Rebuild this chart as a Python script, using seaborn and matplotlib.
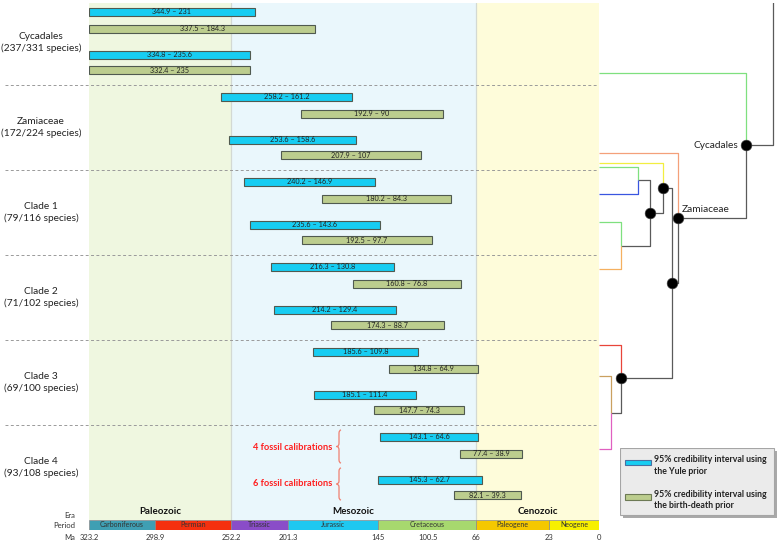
import numpy as np
import pandas as pd
import matplotlib
matplotlib.use("Agg")
import matplotlib.pyplot as plt
import seaborn as sns
from matplotlib.patches import Patch, PathPatch, Rectangle
from matplotlib.path import Path
from matplotlib.transforms import blended_transform_factory

sns.set_style("white")
plt.rcParams["font.family"] = ["Lato", "DejaVu Sans"]

# ------------------------------------------------------------
# data
# ------------------------------------------------------------
clade_names = ["Cycadales", "Zamiaceae", "Clade 1", "Clade 2", "Clade 3", "Clade 4"]
clade_species = ["237/331", "172/224", "79/116", "71/102", "69/100", "93/108"]

# 4 fossil calibrations
yule4_old = [344.9, 258.2, 240.2, 216.3, 185.6, 143.1]
yule4_young = [231, 161.2, 146.9, 130.8, 109.8, 64.6]
bd4_old = [337.5, 192.9, 180.2, 160.8, 134.8, 77.4]
bd4_young = [184.3, 90, 84.3, 76.8, 64.9, 38.9]
# 6 fossil calibrations
yule6_old = [334.8, 253.6, 235.6, 214.2, 185.1, 145.3]
yule6_young = [235.6, 158.6, 143.6, 129.4, 111.4, 62.7]
bd6_old = [332.4, 207.9, 192.5, 174.3, 147.7, 82.1]
bd6_young = [235, 107, 97.7, 88.7, 74.3, 39.3]

era_names = ["Paleozoic", "Mesozoic", "Cenozoic"]
era_old = [323.2, 252.2, 66]
era_young = [252.2, 66, 0]

period_names = ["Carboniferous", "Permian", "Triassic", "Jurassic",
                "Cretaceous", "Paleogene", "Neogene"]
period_old = [323.2, 298.9, 252.2, 201.3, 145, 66, 23]
period_young = [298.9, 252.2, 201.3, 145, 66, 23, 0]

ma_ticks = [323.2, 298.9, 252.2, 201.3, 145, 100.5, 66, 23, 0]
ma_labels = ["323.2", "298.9", "252.2", "201.3", "145", "100.5", "66", "23", "0"]

# summary tree (depth from the tips, row in clade units)
tree_nodes = ["root", "cyc", "cycas", "zam", "zam_a", "e", "a", "zam_b", "b", "c",
              "tip_c1", "tip_c2", "d", "tip_d1", "tip_d2", "f", "tip_f", "g",
              "tip_g1", "tip_g2"]
tree_parent = [None, "root", "cyc", "cyc", "zam", "zam", "e", "a", "a", "b",
               "c", "c", "b", "d", "d", "e", "f", "f", "g", "g"]
tree_depth = [174, 147, 0, 79, 0, 73, 64, 0, 51, 39, 0, 0, 22, 0, 0, 22, 0, 12, 0, 0]
tree_row = [-0.5, 1.71, 0.86, 2.56, 1.80, 3.33, 2.21, 1.92, 2.51, 2.12,
            1.96, 2.28, 2.89, 2.61, 3.16, 4.45, 4.06, 4.86, 4.42, 5.28]
tree_color = ["#5a5a5a", "#5a5a5a", "#7fe07f", "#5a5a5a", "#f4a07a", "#5a5a5a",
              "#5a5a5a", "#f2ee40", "#5a5a5a", "#5a5a5a", "#7fe07f", "#3a56e0",
              "#5a5a5a", "#7fe07f", "#f5b060", "#5a5a5a", "#e8453a", "#5a5a5a",
              "#caa060", "#e060c0"]
tree_dot = ["cyc", "zam", "e", "a", "b", "f"]

# ------------------------------------------------------------
# long table of intervals
# ------------------------------------------------------------
records = []
for i in range(len(clade_names)):
    records.append((i, "4", "Yule", yule4_old[i], yule4_young[i]))
    records.append((i, "4", "BD", bd4_old[i], bd4_young[i]))
    records.append((i, "6", "Yule", yule6_old[i], yule6_young[i]))
    records.append((i, "6", "BD", bd6_old[i], bd6_young[i]))
df = pd.DataFrame(records, columns=["clade", "calib", "prior", "old", "young"])

slot = {("4", "Yule"): 0.141, ("4", "BD"): 0.341, ("6", "Yule"): 0.647, ("6", "BD"): 0.824}
df["row"] = df["clade"] + [slot[(c, p)] for c, p in zip(df["calib"], df["prior"])]

yule_color = "#17cdf2"
bd_color = "#bccd8e"
era_bg = ["#eff7e0", "#eaf7fc", "#fefcda"]
period_colors = ["#3f9fb3", "#f5300f", "#8a4dc8", "#1ec8f0", "#a7d86e", "#f5c800", "#f7f000"]

# geological time scale is drawn piecewise (each interval its own width)
scale_ma = np.array([0, 23, 66, 100.5, 145, 201.3, 252.2, 298.9, 323.2])
scale_px = np.array([0, 50, 123, 171, 221, 311, 368, 444, 510])


def fwd(v):
    return np.interp(v, scale_ma, scale_px)


def inv(p):
    return np.interp(p, scale_px, scale_ma)


W, H = 778, 543
fig = plt.figure(figsize=(W / 100, H / 100), dpi=100)

ax = fig.add_axes([89 / W, 1 - 520 / H, 510 / W, 517 / H])
ax.set_xscale("function", functions=(fwd, inv))
ax.set_xlim(323.2, 0)
ax.set_ylim(520 / 85, 3 / 85)
for sp in ax.spines.values():
    sp.set_visible(False)
ax.tick_params(bottom=False, left=False, labelbottom=False, labelleft=False)

# era backgrounds
for name, o, y, c in zip(era_names, era_old, era_young, era_bg):
    ax.axvspan(y, o, color=c, lw=0, zorder=0)
    mid = inv((fwd(o) + fwd(y)) / 2)
    ax.text(mid, 512 / 85, name, ha="center", va="center", fontsize=7,
            fontweight="bold", color="#111111")
for b in [252.2, 66]:
    ax.axvline(b, color="#d3d9d3", lw=0.9, zorder=0.5)

# clade separators and labels
blend = blended_transform_factory(ax.transAxes, ax.transData)
for k in range(1, len(clade_names)):
    ax.plot([-84 / 510, 509 / 510], [k, k], transform=blend, clip_on=False,
            color="#9a9a9a", lw=0.7, ls=(0, (3, 2.5)), zorder=1)
for k, (name, sp_) in enumerate(zip(clade_names, clade_species)):
    ax.text(-48 / 510, k + 0.5, f"{name}\n({sp_} species)", transform=blend,
            ha="center", va="center", fontsize=7.3, linespacing=1.45, color="#222222")

# interval bars
for _, r in df.iterrows():
    col = yule_color if r["prior"] == "Yule" else bd_color
    ax.barh(r["row"], r["old"] - r["young"], left=r["young"], height=0.1,
            color=col, edgecolor="#505a50", linewidth=0.8, zorder=3)
    mid = inv((fwd(min(r["old"], 323.2)) + fwd(r["young"])) / 2)
    ax.text(mid, r["row"], f"{r['old']:g} – {r['young']:g}", ha="center",
            va="center", fontsize=5.2, color="#222222", zorder=4)

# fossil calibration notes with braces
for txt, yc, (y0, y1) in [("4 fossil calibrations", 447 / 85, (430 / 85, 463 / 85)),
                          ("6 fossil calibrations", 484 / 85, (468 / 85, 500 / 85))]:
    ax.text(204 / 510, yc, txt, transform=blend, ha="center", va="center",
            fontsize=6.7, fontweight="bold", color="#ff1f1f")
    x, d, ym = 250 / 510, (y1 - y0) * 0.1, (y0 + y1) / 2
    verts = [(x + 0.004, y0), (x, y0), (x, y0 + d), (x, ym - d), (x, ym), (x - 0.005, ym),
             (x, ym), (x, ym + d), (x, y1 - d), (x, y1), (x + 0.004, y1)]
    codes = [Path.MOVETO, Path.CURVE3, Path.CURVE3, Path.LINETO, Path.CURVE3, Path.CURVE3,
             Path.CURVE3, Path.CURVE3, Path.LINETO, Path.CURVE3, Path.CURVE3]
    ax.add_patch(PathPatch(Path(verts, codes), transform=blend, fill=False,
                           edgecolor="#f08070", lw=0.9, clip_on=False))

# period strip
ax2 = fig.add_axes([89 / W, 1 - 529.5 / H, 510 / W, 9.5 / H])
ax2.set_xscale("function", functions=(fwd, inv))
ax2.set_xlim(323.2, 0)
ax2.set_ylim(0, 1)
ax2.barh(0, np.array(period_old) - np.array(period_young), left=period_young, height=1,
         align="edge", color=period_colors, edgecolor="#8a8a8a", linewidth=0.5)
for name, o, y in zip(period_names, period_old, period_young):
    mid = inv((fwd(o) + fwd(y)) / 2)
    ax2.text(mid, 0.5, name, ha="center", va="center", fontsize=5, color="#333333")
for sp in ax2.spines.values():
    sp.set_visible(False)
ax2.set_yticks([])
ax2.set_xticks(ma_ticks, ma_labels)
ax2.tick_params(axis="x", length=2.5, width=0.6, pad=1, labelsize=5.5,
                colors="#333333", direction="out")

for lab, ypx in [("Era", 516), ("Period", 526), ("Ma", 537.5)]:
    fig.text(75 / W, 1 - ypx / H, lab, ha="right", va="center", fontsize=5.5, color="#333333")

# summary tree
tax = fig.add_axes([599 / W, 1 - 520 / H, 179 / W, 517 / H])
tax.set_xlim(0, 179)
tax.set_ylim(520 / 85, 3 / 85)
tax.axis("off")
tree = pd.DataFrame({"node": tree_nodes, "parent": tree_parent, "depth": tree_depth,
                     "row": tree_row, "color": tree_color}).set_index("node")
for node, r in tree.iterrows():
    if r["parent"] is None:
        continue
    p = tree.loc[r["parent"]]
    tax.plot([r["depth"], p["depth"], p["depth"]], [r["row"], r["row"], p["row"]],
             color=r["color"], lw=0.9, solid_capstyle="butt", zorder=2)
dots = tree.loc[tree_dot].reset_index()
sns.scatterplot(data=dots, x="depth", y="row", color="black", s=60, edgecolor="#444444",
                linewidth=0.4, ax=tax, zorder=5, legend=False)
tax.set_xlabel("")
tax.set_ylabel("")
tax.text(139, tree.loc["cyc", "row"], "Cycadales", ha="right", va="center",
         fontsize=7.3, color="#222222")
tax.text(83, 209 / 85, "Zamiaceae", ha="left", va="center", fontsize=7.3, color="#222222")

# legend box (drawn in its own small pixel-sized axes)
lax = fig.add_axes([620 / W, 1 - 518 / H, 158 / W, 70 / H])
lax.set_xlim(0, 158)
lax.set_ylim(70, 0)
lax.axis("off")
lax.add_patch(Rectangle((3, 3), 154, 67, facecolor="#a9a9a9", edgecolor="none"))
lax.add_patch(Rectangle((0, 0), 154, 67, facecolor="#ebebeb", edgecolor="#a5a5a5", lw=0.8))
legend_entries = [(yule_color, "#4a6fa0", "95% credibility interval using\nthe Yule prior", 11.5),
                  (bd_color, "#6d7a55", "95% credibility interval using\nthe birth-death prior", 46)]
for fc, ec, label, ytop in legend_entries:
    lax.add_patch(Rectangle((5, ytop), 26, 5.5, facecolor=fc, edgecolor=ec, lw=0.8))
    lax.text(34, ytop - 4, label, ha="left", va="top", fontsize=6.3, fontweight="bold",
             linespacing=1.3, color="#222222")

fig.savefig("out.png", dpi=100)
